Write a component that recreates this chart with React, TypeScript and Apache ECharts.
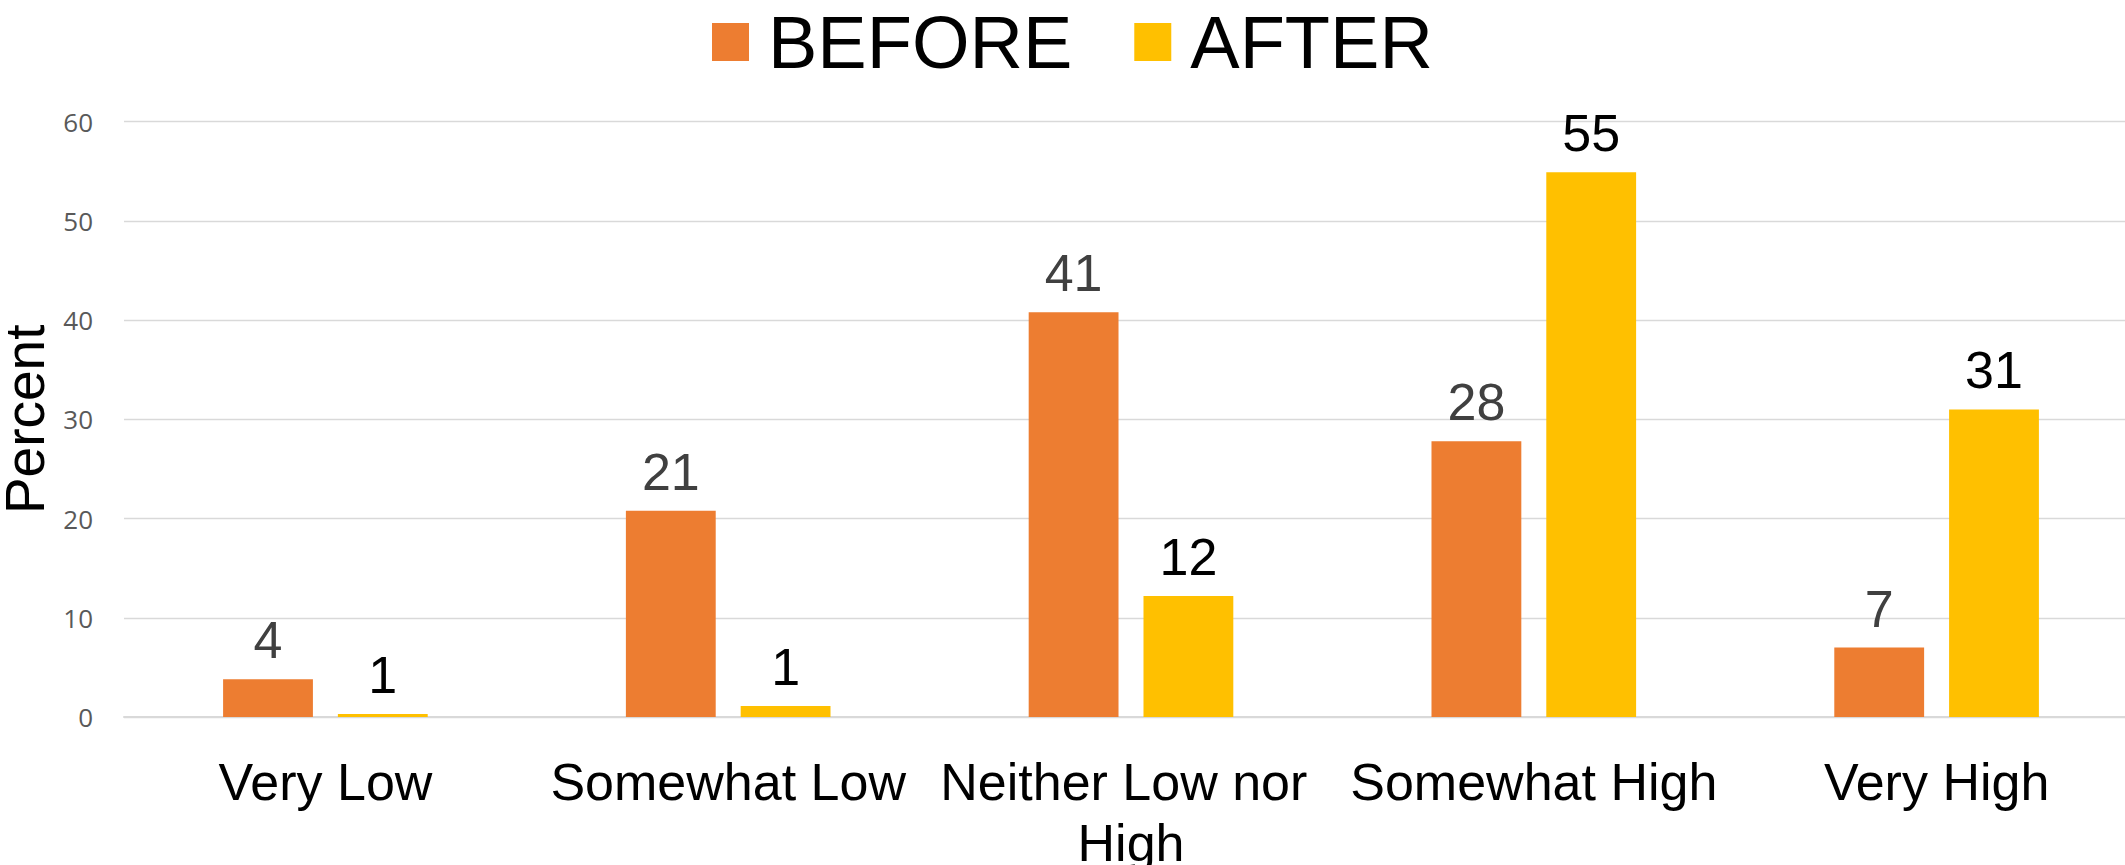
import React, { useEffect, useRef } from "react";
import * as echarts from "echarts";

const categories = ["Very Low", "Somewhat Low", "Neither Low nor High", "Somewhat High", "Very High"];
const seriesNames = ["BEFORE", "AFTER"];
const beforeValues = [3.8, 20.8, 40.8, 27.8, 7.0];
const afterValues = [0.3, 1.1, 12.2, 54.9, 31.0];
const beforeLabels = ["4", "21", "41", "28", "7"];
const afterLabels = ["1", "1", "12", "55", "31"];
const yTicks = { min: 0, max: 60, interval: 10 };
const yAxisTitle = "Percent";

const FONT = "'Liberation Sans', Arial, sans-serif";

export default function App() {
  const ref = useRef<HTMLDivElement>(null);
  useEffect(() => {
    document.body.style.margin = "0";
    if (!ref.current) return;
    const chart = echarts.init(ref.current, null, { renderer: "svg" });
    chart.setOption({
      animation: false,
      backgroundColor: "#ffffff",
      legend: {
        data: seriesNames,
        left: 707,
        top: 0,
        itemWidth: 37,
        itemHeight: 38,
        itemGap: 62,
        icon: "rect",
        textStyle: {
          fontFamily: FONT,
          fontSize: 74,
          color: "#000000",
          padding: [0, 0, 0, 14],
        },
      },
      grid: {
        left: 124,
        top: 121.7,
        width: 2014,
        height: 595.3,
        containLabel: false,
        outerBoundsMode: "none",
      },
      xAxis: {
        type: "category",
        data: categories,
        axisTick: { show: false },
        axisLine: { show: true, lineStyle: { color: "#D9D9D9", width: 2 } },
        axisLabel: {
          fontFamily: FONT,
          fontSize: 52,
          color: "#000000",
          margin: 34,
          lineHeight: 61,
          width: 400,
          overflow: "break",
          interval: 0,
        },
      },
      yAxis: {
        type: "value",
        min: yTicks.min,
        max: yTicks.max,
        interval: yTicks.interval,
        name: yAxisTitle,
        nameLocation: "middle",
        nameGap: 70,
        nameTextStyle: { fontFamily: FONT, fontSize: 55, color: "#000000" },
        axisLine: { show: false },
        axisTick: { show: false },
        axisLabel: { fontFamily: "'Open Sans', sans-serif", fontSize: 26, color: "#595959", margin: 31 },
        splitLine: { show: true, lineStyle: { color: "#D9D9D9", width: 1.3 } },
      },
      series: [
        {
          name: seriesNames[0],
          type: "bar",
          data: beforeValues,
          barWidth: "22.3%",
          barGap: "27.8%",
          itemStyle: { color: "#ED7D31" },
          label: {
            show: true,
            position: "top",
            distance: 13,
            fontFamily: FONT,
            fontSize: 52,
            color: "#404040",
            formatter: (p: any) => beforeLabels[p.dataIndex],
          },
        },
        {
          name: seriesNames[1],
          type: "bar",
          data: afterValues,
          barWidth: "22.3%",
          barGap: "27.8%",
          itemStyle: { color: "#FFC000" },
          label: {
            show: true,
            position: "top",
            distance: 13,
            fontFamily: FONT,
            fontSize: 52,
            color: "#000000",
            formatter: (p: any) => afterLabels[p.dataIndex],
          },
        },
      ],
    });
    return () => chart.dispose();
  }, []);
  return <div ref={ref} style={{ width: 2125, height: 865 }} />;
}
